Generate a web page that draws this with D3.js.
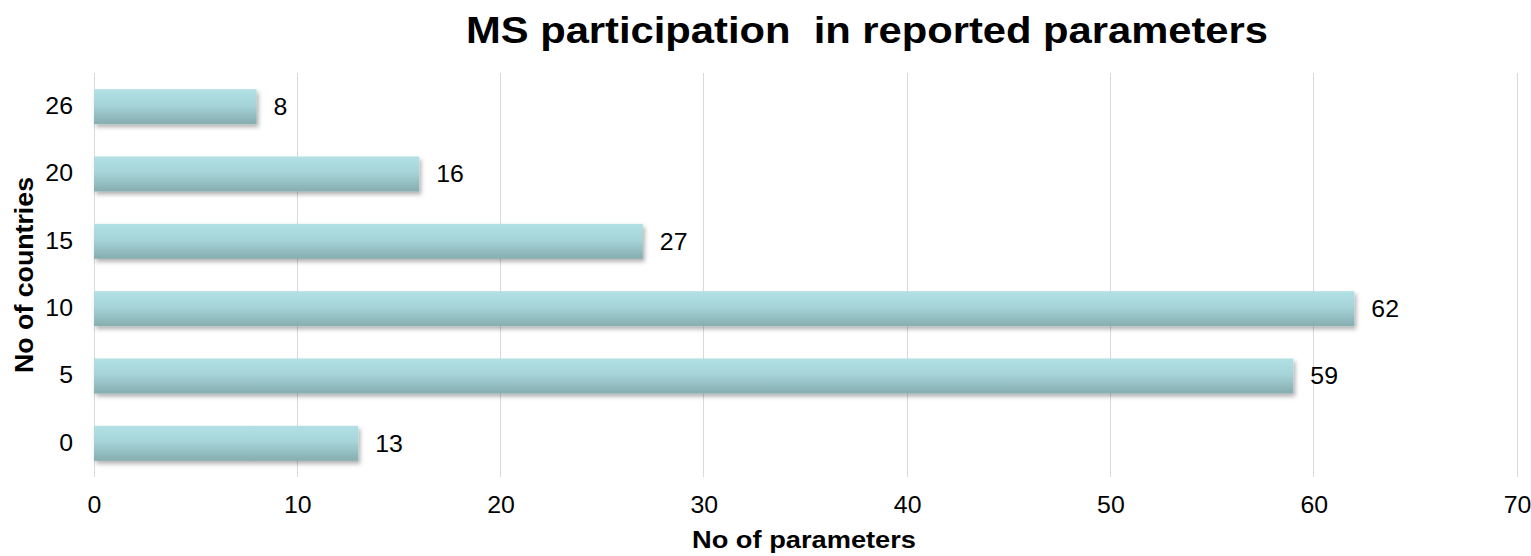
<!DOCTYPE html>
<html><head><meta charset="utf-8">
<script src="https://cdn.jsdelivr.net/npm/d3@7"></script>
<style>body{margin:0;background:#fff;font-family:"Liberation Sans",Arial,sans-serif;}</style>
</head><body>
<svg id="c" width="1531" height="556"></svg>
<script>
const categories = ["26","20","15","10","5","0"];
const values = [8,16,27,62,59,13];
const xTicks = [0,10,20,30,40,50,60,70];
const title = "MS participation\u00a0 in reported parameters";
const xTitle = "No of parameters";
const yTitle = "No of countries";

const FONT = "Liberation Sans, Arial, sans-serif";
const STRETCH = 1.08;
function stretch(sel, k) {
  sel.each(function(){
    const L = this.getComputedTextLength();
    d3.select(this).attr("textLength", L * k).attr("lengthAdjust","spacingAndGlyphs");
  });
}

const svg = d3.select("#c");
const M = {left:94, right:1517, top:73, bottom:477};
const x = d3.scaleLinear().domain([0,70]).range([M.left, M.right]);
const y = d3.scaleBand().domain(categories).range([M.top, M.bottom]).paddingInner(0.48).paddingOuter(0.24);

const defs = svg.append("defs");
const g = defs.append("linearGradient").attr("id","bg").attr("x1",0).attr("y1",0).attr("x2",0).attr("y2",1);
g.append("stop").attr("offset","0%").attr("stop-color","#b2e1e5");
g.append("stop").attr("offset","45%").attr("stop-color","#a6d4d8");
g.append("stop").attr("offset","100%").attr("stop-color","#86adb0");
const f = defs.append("filter").attr("id","sh").attr("x","-5%").attr("y","-20%").attr("width","115%").attr("height","160%");
f.append("feDropShadow").attr("dx",2).attr("dy",3).attr("stdDeviation",2).attr("flood-color","#000").attr("flood-opacity",0.3);

// grid
svg.append("g").selectAll("line").data(xTicks).join("line")
  .attr("x1",d=>x(d)).attr("x2",d=>x(d)).attr("y1",M.top).attr("y2",M.bottom)
  .attr("stroke","#d9d9d9").attr("stroke-width",1).attr("shape-rendering","crispEdges");

// x axis labels
const xa = svg.append("g").attr("transform",`translate(0,${M.bottom})`).call(d3.axisBottom(x).tickValues(xTicks).tickSize(0).tickPadding(20));
xa.select(".domain").remove();
xa.selectAll("text").attr("font-size",23).attr("font-family",FONT).attr("fill","#000").call(stretch, STRETCH);

// y axis labels
const ya = svg.append("g").attr("transform",`translate(${M.left},0)`).call(d3.axisLeft(y).tickSize(0).tickPadding(21));
ya.select(".domain").remove();
ya.selectAll("text").attr("font-size",23).attr("font-family",FONT).attr("fill","#000").call(stretch, STRETCH);

// bars
const data = categories.map((c,i)=>({c, v:values[i]}));
svg.append("g").selectAll("rect").data(data).join("rect")
  .attr("x",x(0)).attr("y",d=>y(d.c)).attr("width",d=>x(d.v)-x(0)).attr("height",y.bandwidth())
  .attr("fill","url(#bg)").attr("filter","url(#sh)");

// value labels
svg.append("g").selectAll("text").data(data).join("text")
  .attr("x",d=>x(d.v)+17).attr("y",d=>y(d.c)+y.bandwidth()/2).attr("dy","0.36em")
  .attr("font-family",FONT).attr("font-size",23).attr("fill","#000").text(d=>d.v).call(stretch, STRETCH);

// titles
svg.append("text").attr("x",867).attr("y",43).attr("text-anchor","middle").attr("font-family",FONT)
  .attr("font-size",36).attr("font-weight","bold").text(title)
  .attr("textLength",802).attr("lengthAdjust","spacingAndGlyphs");
svg.append("text").attr("x",804).attr("y",548).attr("text-anchor","middle").attr("font-family",FONT)
  .attr("font-size",23).attr("font-weight","bold").text(xTitle)
  .attr("textLength",224).attr("lengthAdjust","spacingAndGlyphs");
svg.append("text").attr("transform","translate(33,275) rotate(-90)").attr("text-anchor","middle").attr("font-family",FONT)
  .attr("font-size",25).attr("font-weight","bold").text(yTitle)
  .attr("textLength",196).attr("lengthAdjust","spacingAndGlyphs");
</script>
</body></html>
